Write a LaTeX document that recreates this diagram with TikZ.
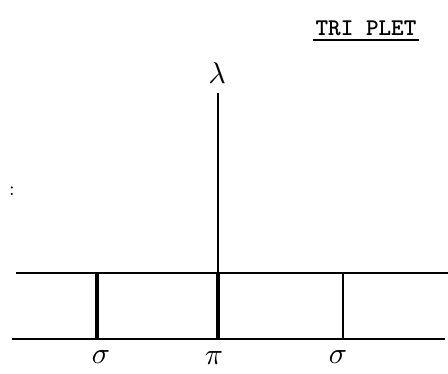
\documentclass[tikz,border=0pt]{standalone}
\usepackage{fontspec}
\begin{document}
\begin{tikzpicture}[x=1pt,y=-1pt,
  thinline/.style={line width=1.6pt},
  thickline/.style={line width=3.2pt},
  lbl/.style={inner sep=0pt}]
\useasboundingbox (0,0) rectangle (448,374);
\node[inner sep=0pt,anchor=base,font=\ttfamily\bfseries\fontsize{24}{26}\selectfont] (title) at (366,36) {TRI PLET};
\coordinate (ul1) at (313,40);
\coordinate (ul2) at (419,40);
\draw[line width=1.4pt] (ul1) -- (ul2);
\node[lbl] (lam) at (217,73) {\scalebox{3}{$\lambda$}};
\node[lbl] (colon) at (12,191) {\scalebox{2}{:}};
\coordinate (t1) at (16,273);
\coordinate (t2) at (448,273);
\coordinate (b1) at (12,339);
\coordinate (b2) at (445,339);
\draw[thinline] (t1) -- (t2);
\draw[thinline] (b1) -- (b2);
\coordinate (ltop) at (218,93);
\coordinate (v1t) at (97,273);
\coordinate (v1b) at (97,339);
\coordinate (v2b) at (218,339);
\coordinate (v3t) at (343,273);
\coordinate (v3b) at (343,339);
\draw[thinline] (ltop) -- (218,273);
\draw[thickline] (v1t) -- (v1b);
\draw[thickline] (218,273) -- (v2b);
\draw[line width=2pt] (v3t) -- (v3b);
\node[lbl] (s1) at (101,357) {\scalebox{3}{$\sigma$}};
\node[lbl] (p) at (214,358) {\scalebox{3}{$\pi$}};
\node[lbl] (s2) at (338,357) {\scalebox{3}{$\sigma$}};
\end{tikzpicture}
\end{document}
